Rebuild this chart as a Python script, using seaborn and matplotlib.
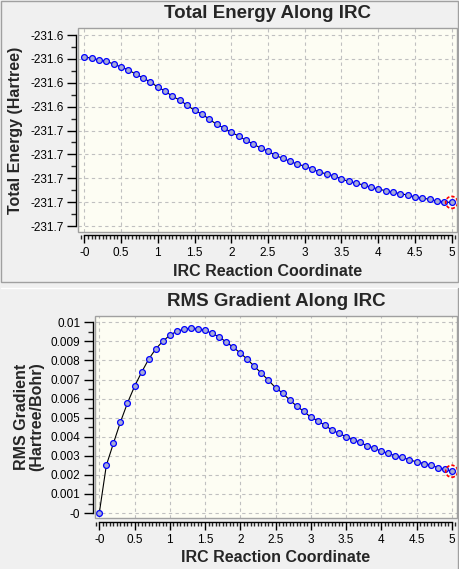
import matplotlib
matplotlib.use("Agg")
import matplotlib.pyplot as plt
import seaborn as sns
import pandas as pd
from matplotlib.ticker import MultipleLocator
from matplotlib.patches import Rectangle
from matplotlib.lines import Line2D

# ---------------- data ----------------
irc_coord = [0.0, 0.1, 0.2, 0.3, 0.4, 0.5, 0.6, 0.7, 0.8, 0.9,
             1.0, 1.1, 1.2, 1.3, 1.4, 1.5, 1.6, 1.7, 1.8, 1.9,
             2.0, 2.1, 2.2, 2.3, 2.4, 2.5, 2.6, 2.7, 2.8, 2.9,
             3.0, 3.1, 3.2, 3.3, 3.4, 3.5, 3.6, 3.7, 3.8, 3.9,
             4.0, 4.1, 4.2, 4.3, 4.4, 4.5, 4.6, 4.7, 4.8, 4.9, 5.0]

total_energy = [-231.5982, -231.5996, -231.6007, -231.6021, -231.6043,
                -231.6068, -231.6093, -231.6127, -231.6160, -231.6194,
                -231.6236, -231.6269, -231.6314, -231.6345, -231.6389,
                -231.6431, -231.6462, -231.6504, -231.6548, -231.6579,
                -231.6615, -231.6646, -231.6682, -231.6713, -231.6747,
                -231.6772, -231.6808, -231.6833, -231.6858, -231.6883,
                -231.6897, -231.6923, -231.6948, -231.6964, -231.6981,
                -231.7006, -231.7026, -231.7040, -231.7057, -231.7076,
                -231.7090, -231.7104, -231.7118, -231.7129, -231.7140,
                -231.7157, -231.7165, -231.7177, -231.7191, -231.7199, -231.7202]

rms_gradient = [0.00000, 0.00250, 0.00365, 0.00477, 0.00577,
                0.00664, 0.00738, 0.00806, 0.00860, 0.00900,
                0.00932, 0.00953, 0.00963, 0.00970, 0.00965,
                0.00958, 0.00942, 0.00923, 0.00897, 0.00869,
                0.00839, 0.00806, 0.00769, 0.00733, 0.00696,
                0.00657, 0.00629, 0.00593, 0.00561, 0.00533,
                0.00503, 0.00483, 0.00460, 0.00435, 0.00418,
                0.00400, 0.00383, 0.00372, 0.00351, 0.00341,
                0.00323, 0.00313, 0.00299, 0.00292, 0.00278,
                0.00269, 0.00259, 0.00252, 0.00238, 0.00229, 0.00219]

x_ticks = [0, 0.5, 1, 1.5, 2, 2.5, 3, 3.5, 4, 4.5, 5]
x_tick_labels = ["-0", "0.5", "1", "1.5", "2", "2.5", "3", "3.5", "4", "4.5", "5"]

energy_ticks = [-231.58, -231.60, -231.62, -231.64, -231.66,
                -231.68, -231.70, -231.72, -231.74]
energy_tick_labels = ["-231.6", "-231.6", "-231.6", "-231.6", "-231.7",
                      "-231.7", "-231.7", "-231.7", "-231.7"]

grad_ticks = [0.0, 0.001, 0.002, 0.003, 0.004, 0.005,
              0.006, 0.007, 0.008, 0.009, 0.01]
grad_tick_labels = ["-0", "0.001", "0.002", "0.003", "0.004", "0.005",
                    "0.006", "0.007", "0.008", "0.009", "0.01"]

titles = ["Total Energy Along IRC", "RMS Gradient Along IRC"]
x_label = "IRC Reaction Coordinate"
y_labels = ["Total Energy (Hartree)", "RMS Gradient\n(Hartree/Bohr)"]

df = pd.DataFrame({"irc": irc_coord, "energy": total_energy, "grad": rms_gradient})

# ---------------- style ----------------
sns.set_style("white")
plt.rcParams["font.family"] = ["Liberation Sans", "DejaVu Sans"]

W, H = 459, 569
BG = "#f0f0f0"
PLOT_BG = "#fdfdf3"
GRID = "#c0c0c0"
BORDER = "#a0a0a0"
PX = 72 / 100  # points per pixel at dpi 100

fig = plt.figure(figsize=(W / 100, H / 100), dpi=100, facecolor=BG)

# panel frames
fig.add_artist(Rectangle((1 / W, 1 - 282 / H), 457 / W, 281 / H, transform=fig.transFigure,
                         fill=False, edgecolor=BORDER, lw=1))
fig.add_artist(Line2D([1 / W, 458 / W], [1 - 288 / H, 1 - 288 / H], transform=fig.transFigure,
                      color="white", lw=1))
fig.add_artist(Line2D([458 / W, 458 / W], [0, 1 - 288 / H], transform=fig.transFigure,
                      color=BORDER, lw=1))


def make_axes(rect, ycol, yticks, ylabels, ylim, xlim, title, ylabel,
              xoff_px, title_y, ylab_x, xlab_y):
    ax = fig.add_axes(rect)
    ax.set_facecolor(PLOT_BG)
    sns.lineplot(data=df, x="irc", y=ycol, ax=ax, color="black", lw=0.8,
                 marker="o", markersize=4.2, markerfacecolor="#a6aad6",
                 markeredgecolor="#0000ff", markeredgewidth=0.9, zorder=3)
    ax.scatter([irc_coord[-1]], [df[ycol].iloc[-1]], s=75, facecolors="none",
               edgecolors="red", linewidths=1.2, linestyles=(0, (2, 1.2)),
               zorder=4, clip_on=False)
    ax.set_xlim(*xlim)
    ax.set_ylim(*ylim)
    ax.set_xticks(x_ticks, x_tick_labels)
    ax.set_yticks(yticks, ylabels)
    ax.xaxis.set_minor_locator(MultipleLocator(0.05))
    ax.yaxis.set_minor_locator(MultipleLocator(abs(yticks[1] - yticks[0]) / 2))
    ax.grid(True, which="major", color=GRID, linestyle=(0, (3, 3)), lw=0.8)
    for s in ("top", "right"):
        ax.spines[s].set_visible(False)
    ax.spines["left"].set_position(("outward", 2 * PX))
    ax.spines["bottom"].set_position(("outward", xoff_px * PX))
    ax.spines["left"].set_bounds(min(yticks), max(yticks))
    ax.spines["bottom"].set_bounds(0, 5)
    for s in ("left", "bottom"):
        ax.spines[s].set_color("black")
        ax.spines[s].set_linewidth(1)
    ax.add_patch(Rectangle((0, 0), 1, 1, transform=ax.transAxes, fill=False,
                           edgecolor=BORDER, lw=1, clip_on=False, zorder=5))
    ax.tick_params(axis="y", which="major", length=9 * PX, width=1, pad=2.5,
                   labelsize=8.5, direction="out", left=True, colors="black")
    ax.tick_params(axis="y", which="minor", length=5 * PX, width=1, left=True,
                   direction="out")
    ax.tick_params(axis="x", which="major", length=8 * PX, width=1, pad=3,
                   labelsize=8.5, direction="out", bottom=True, colors="black")
    ax.tick_params(axis="x", which="minor", length=4.3 * PX, width=1, bottom=True,
                   direction="out")
    ax.set_title(title, fontsize=13.5, fontweight="bold", pad=0, y=title_y, va="center")
    ax.set_xlabel(x_label, fontsize=11.5, fontweight="bold")
    ax.set_ylabel(ylabel, fontsize=11.5, fontweight="bold", linespacing=1.0)
    ax.xaxis.set_label_coords(0.5, xlab_y)
    ax.yaxis.set_label_coords(ylab_x, 0.5)
    return ax


make_axes([78 / W, 1 - 232 / H, 379 / W, 204 / H], "energy", energy_ticks,
          energy_tick_labels, (-231.745, -231.5741), (-0.0857, 5.072),
          titles[0], y_labels[0], 3, 1.07, -0.145, -0.155)

make_axes([94.7 / W, 1 - 518 / H, 362.3 / W, 202 / H], "grad", grad_ticks,
          grad_tick_labels, (-0.00026, 0.01033), (-0.065, 5.0745),
          titles[1], y_labels[1], 4, 1.07, -0.14, -0.158)

fig.savefig("out.png", dpi=100, facecolor=BG)
